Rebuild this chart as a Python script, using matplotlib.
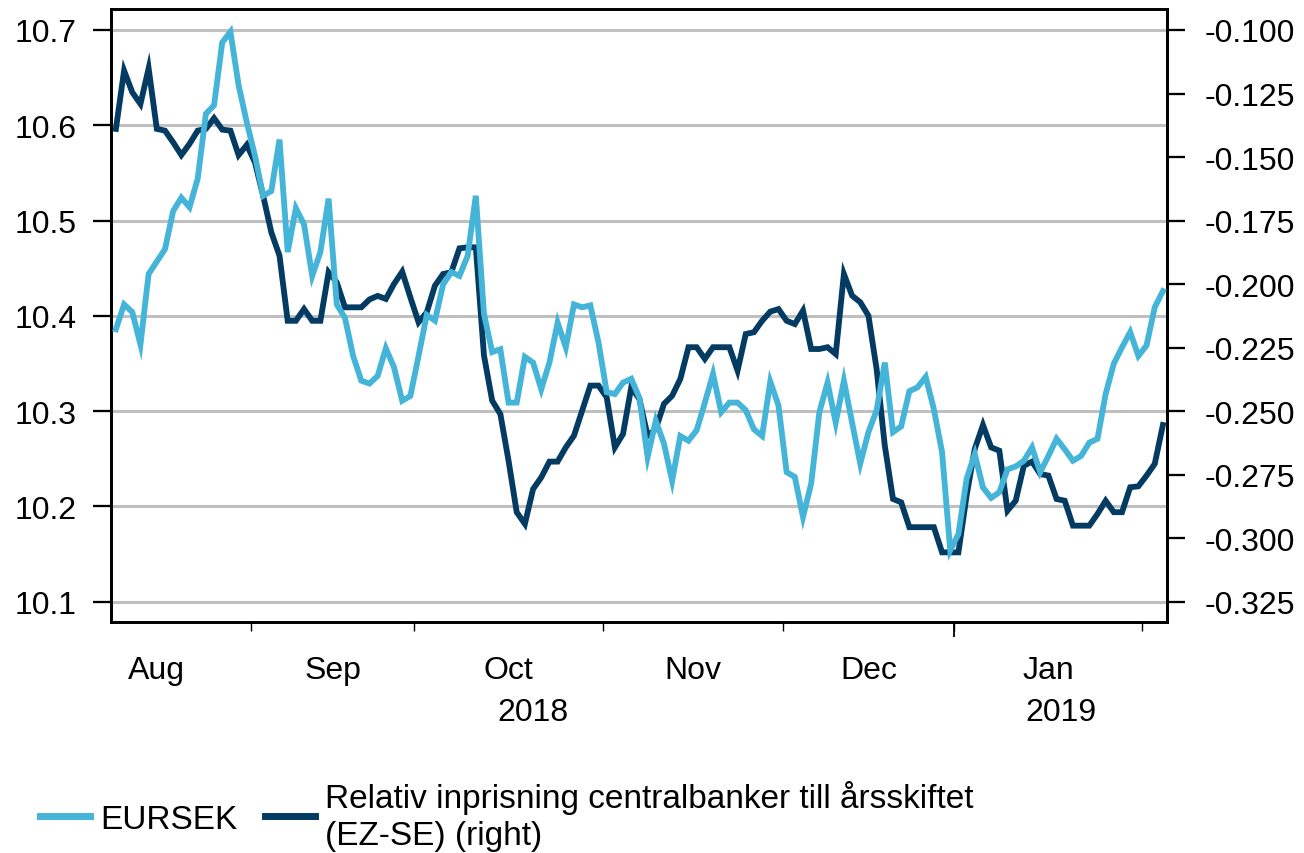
import numpy as np
import pandas as pd
import matplotlib
matplotlib.use("Agg")
import matplotlib.pyplot as plt
from matplotlib.lines import Line2D
from matplotlib.transforms import blended_transform_factory

# ---------------- data ----------------
start_date = "2018-08-09"   # first business day shown

eursek = [10.386, 10.412, 10.404, 10.370, 10.444, 10.457, 10.470, 10.510, 10.524, 10.514,
          10.544, 10.612, 10.621, 10.687, 10.698, 10.642, 10.603, 10.568, 10.526, 10.531,
          10.585, 10.467, 10.513, 10.496, 10.442, 10.467, 10.523, 10.412, 10.398, 10.358,
          10.332, 10.329, 10.337, 10.366, 10.346, 10.311, 10.316, 10.358, 10.401, 10.395,
          10.433, 10.446, 10.442, 10.463, 10.526, 10.402, 10.362, 10.365, 10.309, 10.309,
          10.357, 10.351, 10.323, 10.351, 10.393, 10.367, 10.412, 10.409, 10.411, 10.372,
          10.320, 10.318, 10.330, 10.334, 10.314, 10.252, 10.290, 10.266, 10.227, 10.274,
          10.269, 10.280, 10.309, 10.339, 10.299, 10.309, 10.309, 10.301, 10.281, 10.274,
          10.331, 10.306, 10.236, 10.231, 10.189, 10.224, 10.299, 10.330, 10.288, 10.332,
          10.288, 10.245, 10.278, 10.301, 10.351, 10.278, 10.284, 10.321, 10.325, 10.336,
          10.302, 10.257, 10.154, 10.171, 10.229, 10.255, 10.220, 10.209, 10.215, 10.239,
          10.242, 10.248, 10.262, 10.236, 10.253, 10.271, 10.260, 10.248, 10.253, 10.267,
          10.271, 10.318, 10.350, 10.367, 10.383, 10.358, 10.369, 10.409, 10.426]

relative = [-0.1389, -0.1160, -0.1245, -0.1291, -0.1151, -0.1389, -0.1396, -0.1442, -0.1492, -0.1448,
            -0.1396, -0.1389, -0.1347, -0.1392, -0.1396, -0.1492, -0.1452, -0.1521, -0.1652, -0.1796,
            -0.1888, -0.2144, -0.2144, -0.2098, -0.2144, -0.2144, -0.1953, -0.1993, -0.2091, -0.2091,
            -0.2091, -0.2060, -0.2046, -0.2058, -0.1999, -0.1951, -0.2052, -0.2150, -0.2111, -0.2006,
            -0.1960, -0.1953, -0.1859, -0.1855, -0.1855, -0.2281, -0.2458, -0.2511, -0.2694, -0.2897,
            -0.2943, -0.2806, -0.2760, -0.2698, -0.2698, -0.2642, -0.2596, -0.2498, -0.2399, -0.2399,
            -0.2445, -0.2642, -0.2589, -0.2406, -0.2452, -0.2596, -0.2570, -0.2471, -0.2439, -0.2373,
            -0.2248, -0.2248, -0.2294, -0.2248, -0.2248, -0.2248, -0.2340, -0.2196, -0.2189, -0.2144,
            -0.2108, -0.2098, -0.2144, -0.2157, -0.2104, -0.2255, -0.2255, -0.2248, -0.2275, -0.1960,
            -0.2045, -0.2071, -0.2124, -0.2334, -0.2635, -0.2845, -0.2858, -0.2956, -0.2956, -0.2956,
            -0.2956, -0.3055, -0.3055, -0.3055, -0.2832, -0.2648, -0.2554, -0.2642, -0.2655, -0.2891,
            -0.2852, -0.2714, -0.2698, -0.2747, -0.2753, -0.2845, -0.2852, -0.2950, -0.2950, -0.2950,
            -0.2904, -0.2852, -0.2897, -0.2897, -0.2799, -0.2795, -0.2753, -0.2707, -0.2554]

left_ticks = [10.1, 10.2, 10.3, 10.4, 10.5, 10.6, 10.7]
right_ticks = [-0.325, -0.300, -0.275, -0.250, -0.225, -0.200, -0.175, -0.150, -0.125, -0.100]
month_names = ["Aug", "Sep", "Oct", "Nov", "Dec", "Jan"]
year_labels = ["2018", "2019"]
series_names = ["EURSEK", "Relativ inprisning centralbanker till årsskiftet\n(EZ-SE) (right)"]

# ---------------- style ----------------
LIGHT = "#44B4D8"
DARK = "#033B62"
plt.rcParams["font.family"] = ["Liberation Sans", "DejaVu Sans"]
FS = 23
LW = 4.2

W, H = 1304, 854
fig = plt.figure(figsize=(W / 100, H / 100), dpi=100)
L, R, T, B = 111, 1167, 10, 623
ax = fig.add_axes([L / W, 1 - B / H, (R - L) / W, (B - T) / H])
ax2 = ax.twinx()   # right axis, drawn above ax

# business-day positions
dates = pd.bdate_range(start_date, periods=len(eursek))
cal = pd.bdate_range("2018-08-01", "2019-02-28")
offset = cal.get_loc(dates[0])
x = np.arange(len(dates))

# left axis: grid + ticks (bottom layer)
ax.set_ylim(10.0788, 10.722)
ax.set_yticks(left_ticks)
ax.set_yticklabels([f"{v:.1f}" for v in left_ticks])
ax.set_xlim(-0.6, len(x) - 0.5)
ax.grid(axis="y", color="#C0C0C0", lw=2.2)
ax.set_axisbelow(True)

# right axis
ax2.set_ylim(-0.3329, -0.09174)
ax2.set_yticks(right_ticks)
ax2.set_yticklabels([f"{v:.3f}" for v in right_ticks])
ax2.plot(x, relative, color=DARK, lw=LW, solid_joinstyle="miter", zorder=3)
# EURSEK on top, in left-axis coordinates
ax2.plot(x, eursek, color=LIGHT, lw=LW, solid_joinstyle="miter", zorder=4,
         transform=ax.transData)
ax2.set_ylim(-0.3329, -0.09174)
ax2.set_xlim(ax.get_xlim())

# month boundaries and centres
month_starts = cal.to_series().groupby([cal.year, cal.month]).first().values
bounds = np.array([cal.get_loc(pd.Timestamp(d)) - offset - 0.5 for d in month_starts])
mids = (bounds[:-1] + bounds[1:]) / 2
ax.set_xticks(bounds[1:])
ax.set_xticklabels([])
ax.set_xticks(mids[:len(month_names)], minor=True)
ax.set_xticklabels(month_names, minor=True)
ax.tick_params(axis="x", which="major", length=6.5, width=1.0, direction="out")
ax.tick_params(axis="x", which="minor", length=0, pad=24, labelsize=FS)

# longer tick at year change
year_bound = bounds[5]
sec = ax.secondary_xaxis("bottom")
sec.set_xticks([year_bound])
sec.set_xticklabels([])
sec.tick_params(length=11, width=1.3)
sec.spines["bottom"].set_visible(False)

# year labels
trans = blended_transform_factory(ax.transData, ax.transAxes)
xl0, xl1 = ax.get_xlim()
ax.text((xl0 + year_bound) / 2, -0.1225, year_labels[0], transform=trans,
        ha="center", va="top", fontsize=FS)
ax.text((year_bound + xl1) / 2, -0.1225, year_labels[1], transform=trans,
        ha="center", va="top", fontsize=FS)

ax.tick_params(axis="y", length=13, width=1.65, pad=12, labelsize=FS)
ax2.tick_params(axis="y", length=13, width=1.65, pad=14, labelsize=FS)

for a in (ax, ax2):
    for s in a.spines.values():
        s.set_linewidth(1.95)
        s.set_color("black")

handles = [Line2D([], [], color=LIGHT, lw=5), Line2D([], [], color=DARK, lw=5)]
leg = fig.legend(handles, series_names, loc="center left",
                 bbox_to_anchor=(40 / W, 1 - 817 / H), ncol=2, frameon=False,
                 handlelength=1.5, handletextpad=0.3, columnspacing=0.84,
                 borderpad=0, borderaxespad=0, fontsize=24)
for t in leg.get_texts():
    t.set_linespacing(1.25)

fig.savefig("out.png", dpi=100)
